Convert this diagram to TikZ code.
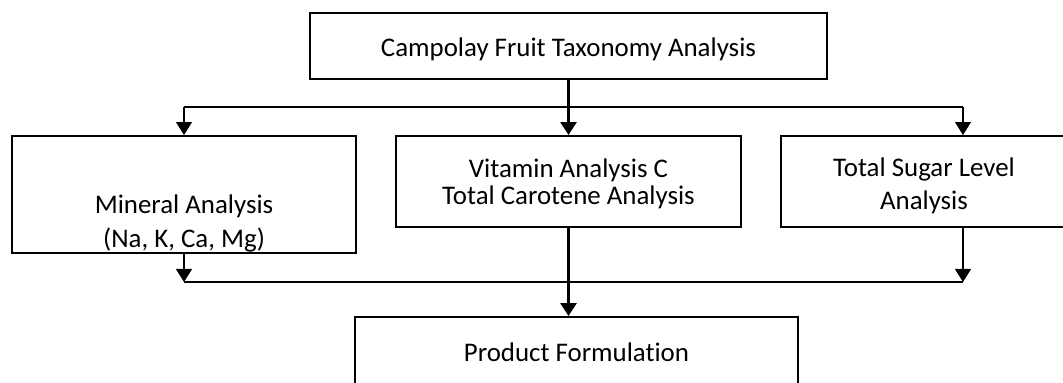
\documentclass[tikz,border=0pt]{standalone}
\usepackage{fontspec}
\setmainfont{Carlito}[Ligatures=NoCommon]
\usetikzlibrary{arrows.meta,positioning}

\begin{document}
\begin{tikzpicture}[
   box/.style={draw, line width=1.1pt, align=center, inner sep=0pt, font=\fontsize{15.3}{15.9}\selectfont},
   thin line/.style={line width=0.6pt},
   thick line/.style={line width=1.6pt},
   tip/.style={-{Triangle[width=0.32cm,length=0.26cm]}}
]
  \useasboundingbox (0,0) rectangle (21.26,-7.66);              % Page size

  \node[box, minimum width=10.34cm, text height=0.88cm, text depth=0.44cm] (taxonomy) at (11.37,-0.92) {Campolay Fruit Taxonomy Analysis};   % Top box
  \node[box, minimum width=6.88cm, text height=2.24cm, text depth=0.1cm,
        font=\fontsize{15.3}{19.9}\selectfont] (mineral) at (3.68,-3.89) {Mineral Analysis\\(Na, K, Ca, Mg)};   % Left box
  \node[box, minimum width=6.9cm, text height=1.38cm, text depth=0.44cm] (vitamin) at (11.37,-3.63) {Vitamin Analysis C\\Total Carotene Analysis};   % Middle box
  \node[box, minimum width=5.72cm, text height=1.48cm, text depth=0.34cm,
        font=\fontsize{15.3}{18.8}\selectfont] (sugar) at (18.48,-3.63) {Total Sugar Level\\Analysis};   % Right box
  \node[box, minimum width=8.86cm, text height=0.9cm, text depth=0.54cm] (product) at (11.53,-7.06) {Product Formulation};   % Bottom box

  \coordinate (splitL) at (3.68,-2.14);                        % Top branch left end
  \coordinate (splitR) at (19.26,-2.14);                       % Top branch right end
  \coordinate (joinL) at (3.68,-5.64);                         % Bottom branch left end
  \coordinate (joinR) at (19.26,-5.64);                        % Bottom branch right end

  \draw[thick line, tip] (taxonomy) -- (vitamin);              % Top box to middle box
  \draw[thin line] (splitL) -- (splitR);                       % Top branch line
  \draw[thin line, tip] (splitL) -- (mineral.north);           % Branch to left box
  \draw[thin line, tip] (splitR) -- (splitR |- sugar.north);   % Branch to right box

  \draw[thin line] (joinL) -- (joinR);                         % Bottom branch line
  \draw[thin line, tip] (mineral.south) -- (joinL);            % Left box to bottom line
  \draw[thin line, tip] (joinR |- sugar.south) -- (joinR);     % Right box to bottom line
  \draw[thick line, tip] (vitamin.south) -- (vitamin.south |- product.north);   % Middle box to bottom box
\end{tikzpicture}
\end{document}
